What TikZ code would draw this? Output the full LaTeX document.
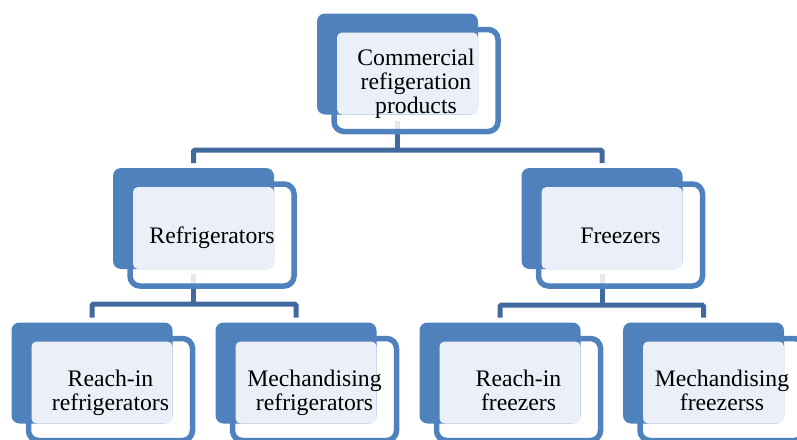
\documentclass[tikz,border=0pt]{standalone}
\usepackage{fontspec}
\setmainfont{Liberation Serif}
\usetikzlibrary{calc}
\definecolor{backblue}{RGB}{79,129,189}
\definecolor{connblue}{RGB}{64,106,158}
\definecolor{lightfill}{RGB}{235,240,248}
\pgfdeclarelayer{connl}
\pgfdeclarelayer{outl}
\pgfdeclarelayer{backl}
\pgfdeclarelayer{litel}
\pgfsetlayers{connl,outl,backl,litel,main}
\tikzset{
  backbox/.style={draw=none, fill=backblue, rounded corners=8pt, minimum width=161pt, minimum height=101pt, inner sep=0pt, outer sep=0pt},
  outbox/.style={draw=backblue, line width=5.5pt, fill=white, fill opacity=0.85, draw opacity=1, rounded corners=10pt, minimum width=164pt, minimum height=102pt, inner sep=0pt, outer sep=0pt},
  litebox/.style={fill=lightfill, rounded corners=5pt},
  txt/.style={font=\fontsize{23.7}{24}\selectfont, align=center, text=black, inner sep=0pt, yshift=-4pt},
  connline/.style={draw=connblue, line width=5pt, rounded corners=1.5pt},
}
\newcommand{\orgbox}[3]{%
  \begin{pgfonlayer}{backl}\node[backbox] (#1) at (#2) {};\end{pgfonlayer}
  \begin{pgfonlayer}{outl}\node[outbox] (#1-o) at ($(#1)+(18.5,16.5)$) {};\end{pgfonlayer}
  \begin{pgfonlayer}{litel}\path[litebox] ($(#1.north west)+(20,19)$) rectangle (#1.south east);\end{pgfonlayer}
  \node[txt] (#1-t) at (#1-o) {\strut #3\strut};
}
\begin{document}
\begin{tikzpicture}[x=1pt,y=-1pt]
\useasboundingbox (0,0) rectangle (797,439);
\orgbox{top}{397.5,64}{Commercial\\refigeration\\products}
\orgbox{ref}{193.5,218.5}{Refrigerators}
\orgbox{frz}{602,218.5}{Freezers}
\orgbox{rir}{92,373}{Reach-in\\refrigerators}
\orgbox{mr}{296,373}{Mechandising\\refrigerators}
\orgbox{rif}{500,373}{Reach-in\\freezers}
\orgbox{mf}{703.5,373}{Mechandising\\freezerss}
\coordinate (bar1) at (397.5,150);
\coordinate (bar2) at (193.5,304);
\coordinate (bar3) at (602,305);
\begin{pgfonlayer}{connl}
  \draw[connline] ($(top.south)+(0,6)$) -- (top.south |- bar1);
  \draw[connline] ($(ref.north)+(0,-5)$) -- (ref.north |- bar1) -- (frz.north |- bar1) -- ($(frz.north)+(0,-5)$);
  \draw[connline] ($(ref.south)+(0,5)$) -- (ref.south |- bar2);
  \draw[connline] ($(rir.north)+(0,-5)$) -- (rir.north |- bar2) -- (mr.north |- bar2) -- ($(mr.north)+(0,-5)$);
  \draw[connline] ($(frz.south)+(0,5)$) -- (frz.south |- bar3);
  \draw[connline] ($(rif.north)+(0,-5)$) -- (rif.north |- bar3) -- (mf.north |- bar3) -- ($(mf.north)+(0,-5)$);
\end{pgfonlayer}
\end{tikzpicture}
\end{document}
